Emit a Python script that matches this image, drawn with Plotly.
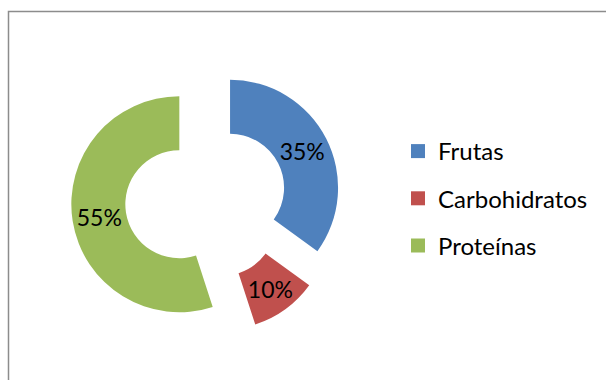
import plotly.graph_objects as go

# Diet composition shares
categories = ["Frutas", "Carbohidratos", "Proteínas"]
shares = [35, 10, 55]
colors = ["#4F81BD", "#C0504D", "#9BBB59"]
explode = [0.25, 0.25, 0.25]

W, H = 606, 380
FONT = "Lato"

fig = go.Figure()

fig.add_trace(go.Pie(
    labels=categories,
    values=shares,
    hole=0.5,
    pull=explode,
    sort=False,
    direction="clockwise",
    rotation=0,
    marker=dict(colors=colors, line=dict(width=0)),
    textinfo="percent",
    texttemplate="%{percent:.0%}",
    textposition="inside",
    insidetextorientation="horizontal",
    textfont=dict(family=FONT, size=23, color="#000000"),
    showlegend=False,
    hoverinfo="label+percent",
    domain=dict(x=[71 / W, 341 / W], y=[(H - 335) / H, (H - 65) / H]),
))

# Legend entries, one group per category so the rows can be spaced apart
for name, col in zip(categories, colors):
    fig.add_trace(go.Scatter(
        x=[None], y=[None], mode="markers", name=name,
        legendgroup=name,
        marker=dict(symbol="square", size=14, color=col, line=dict(width=0)),
        hoverinfo="skip",
    ))

fig.update_layout(
    width=W, height=H,
    margin=dict(l=0, r=0, t=0, b=0),
    paper_bgcolor="white",
    plot_bgcolor="white",
    xaxis=dict(visible=False),
    yaxis=dict(visible=False),
    uniformtext=dict(minsize=23, mode="show"),
    legend=dict(
        x=398 / W, y=1 - 129 / H, xanchor="left", yanchor="top",
        font=dict(family=FONT, size=24, color="#000000"),
        traceorder="grouped",
        tracegroupgap=13,
        bgcolor="rgba(0,0,0,0)",
        itemsizing="trace",
    ),
    shapes=[dict(
        type="rect", xref="paper", yref="paper",
        x0=8.5 / W, x1=1.02, y0=-0.02, y1=1 - 11.5 / H,
        line=dict(color="#8C8C8C", width=1.5),
        fillcolor="rgba(0,0,0,0)",
        layer="below",
    )],
)

fig.write_html("out.html")
